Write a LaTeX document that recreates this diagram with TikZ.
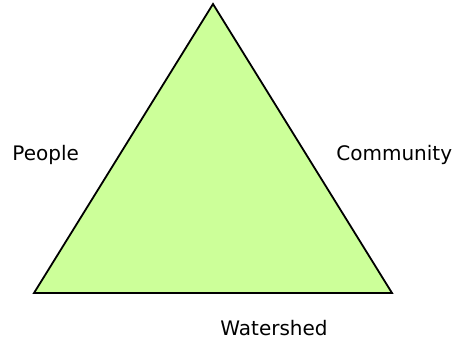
\documentclass[tikz,border=0pt]{standalone}
\usepackage{fontspec}
\setmainfont{DejaVu Sans}
\definecolor{LeafGreen}{HTML}{CCFF99}
\usetikzlibrary{positioning}

\begin{document}
\begin{tikzpicture}[x=0.5pt,y=-0.5pt]
  \tikzset{lbl/.style={font=\fontsize{10}{12}\selectfont, inner sep=0pt}}
  \useasboundingbox (0,0) rectangle (454,343);

  % --- Triangle ---
  \coordinate (apex) at (213,4);
  \coordinate (left) at (34,293);
  \coordinate (right) at (392,293);
  \filldraw[fill=LeafGreen, draw=black, line width=0.9pt, line join=miter]
    (apex) -- (left) -- (right) -- cycle;

  % --- Labels ---
  \node[lbl, anchor=west] (people) at (12,155) {People};
  \node[lbl, anchor=west] (community) at (336,155) {Community};
  \node[lbl, anchor=west] (watershed) at (220,328) {Watershed};
\end{tikzpicture}
\end{document}
